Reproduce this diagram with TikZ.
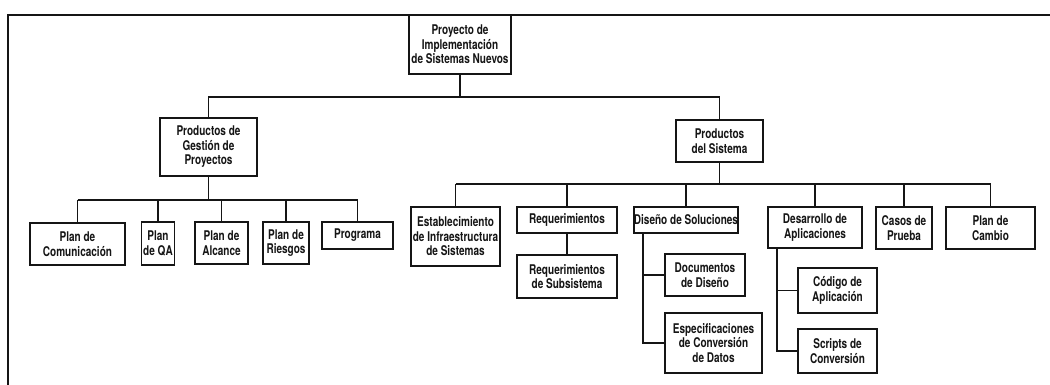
\documentclass[tikz,border=0pt]{standalone}
\usepackage{fontspec}
\setmainfont[FakeStretch=0.75]{TeX Gyre Heros}
\usetikzlibrary{positioning,calc}
\definecolor{Ink}{HTML}{151515}

\tikzset{
  wbs/.style={draw=Ink,line width=0.9pt,fill=white,align=center,inner sep=0pt,
    text=Ink,font=\bfseries\fontsize{9.5}{10.3}\selectfont},
  sz/.style 2 args={minimum width=#1*0.025cm,minimum height=#2*0.025cm},
  link/.style={draw=Ink,line width=0.9pt}
}

\begin{document}
\begin{tikzpicture}[x=0.025cm,y=-0.025cm]
\useasboundingbox (0,0) rectangle (1050,385);
% frame
\draw[Ink,line width=1.5pt] (8,385) -- (8,15) -- (1050,15);
% level 0 and 1
\node[wbs,sz={102}{59}] (root) at (460,44.5) {Proyecto de\\Implementación\\de Sistemas Nuevos};
\node[wbs,sz={97}{58}] (pgp) at (208.5,147) {Productos de\\Gestión de\\Proyectos};
\node[wbs,sz={87}{42}] (pds) at (719.5,141) {Productos\\del Sistema};
% gestion de proyectos
\node[wbs,sz={95}{42}] (com) at (77.5,244) {Plan de\\Comunicación};
\node[wbs,sz={33}{43}] (qa) at (158,243.5) {Plan\\de QA};
\node[wbs,sz={53}{42}] (alc) at (221.5,243) {Plan de\\Alcance};
\node[wbs,sz={46}{42}] (rie) at (286,243) {Plan de\\Riesgos};
\node[wbs,sz={71}{27}] (prog) at (357.5,235.5) {Programa};
% sistema
\node[wbs,sz={89}{59}] (est) at (455.5,236.5) {Establecimiento\\de Infraestructura\\de Sistemas};
\node[wbs,sz={100}{26}] (req) at (567,220) {Requerimientos};
\node[wbs,sz={100}{43}] (sub) at (567,276.5) {Requerimientos\\de Subsistema};
\node[wbs,sz={103}{26}] (dis) at (686,220) {Diseño de Soluciones};
\node[wbs,sz={80}{42}] (doc) at (705,275) {Documentos\\de Diseño};
\node[wbs,sz={97}{60}] (esp) at (713.5,343) {Especificaciones\\de Conversión\\de Datos};
\node[wbs,sz={94}{41}] (des) at (815,227.5) {Desarrollo de\\Aplicaciones};
\node[wbs,sz={79}{45}] (cod) at (837.5,290.5) {Código de\\Aplicación};
\node[wbs,sz={79}{44}] (scr) at (837.5,351) {Scripts de\\Conversión};
\node[wbs,sz={56}{42}] (cas) at (904,228) {Casos de\\Prueba};
\node[wbs,sz={89}{42}] (cam) at (990.5,228) {Plan de\\Cambio};

% connectors
\coordinate (b0) at (0,97);
\coordinate (b1) at (0,200);
\coordinate (b2) at (0,184);
\coordinate (dx) at (643,0);
\coordinate (ax) at (777,0);
\draw[link] (root.south) -- (root.south|-b0);
\draw[link] (pgp.north) |- (root.south|-b0) -| (pds.north);

\draw[link] (pgp.south) -- (pgp.south|-b1);
\draw[link] (com.north|-b1) -- (prog.north|-b1);
\foreach \n in {com,qa,alc,rie,prog}
  \draw[link] (\n.north) -- (\n.north|-b1);

\draw[link] (pds.south) -- (pds.south|-b2);
\draw[link] (est.north|-b2) -- (cam.north|-b2);
\foreach \n in {est,req,dis,des,cas,cam}
  \draw[link] (\n.north) -- (\n.north|-b2);

\draw[link] (req.south) -- (sub.north);
\draw[link] (dis.south-|dx) |- (esp.west);
\draw[link] (doc.west-|dx) -- (doc.west);
\draw[link] (des.south-|ax) |- (scr.west);
\draw[link] (cod.west-|ax) -- (cod.west);
\end{tikzpicture}
\end{document}
